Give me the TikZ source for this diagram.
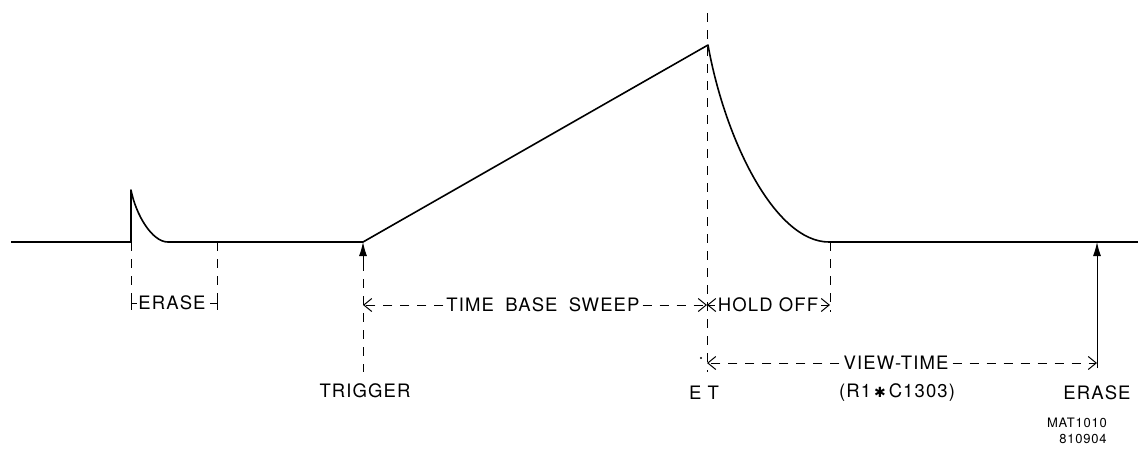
\documentclass[tikz,border=0pt]{standalone}
\usepackage{fontspec}
\setmainfont{TeX Gyre Heros}[LetterSpace=6]
\newfontfamily\symfont{DejaVu Sans}
\usetikzlibrary{arrows.meta}
\tikzset{
  wave/.style={line width=1.6pt, line join=round},
  dim/.style={line width=1pt, dash pattern=on 9pt off 8pt},
  solidline/.style={line width=1pt},
  barb/.style={-{Straight Barb[length=8pt,width=13pt,line width=1pt]}, line width=1pt, dash pattern=on 9pt off 8pt},
  uparrow/.style={-{Latex[length=14pt,width=8pt]}, line width=1pt},
  lbl/.style={font=\fontsize{18.5}{20}\selectfont, inner sep=0pt, anchor=center},
  small/.style={font=\fontsize{13}{15}\selectfont, inner sep=0pt, anchor=center}
}
\begin{document}
\begin{tikzpicture}[x=1pt,y=-1pt]
\useasboundingbox (0,0) rectangle (1138,448);
% waveform
\coordinate (L0) at (11,242);
\coordinate (P0) at (131,242);
\coordinate (P1) at (131,190);
\coordinate (P2) at (168,242);
\coordinate (T) at (363,242);
\coordinate (Pk) at (708,45);
\coordinate (H) at (829,242);
\coordinate (R) at (1138,242);
\coordinate (E2) at (1097,242);
\draw[wave] (L0) -- (P0) -- (P1) .. controls (136,215) and (152,242) .. (P2) -- (T) -- (Pk) .. controls (725,140) and (775,242) .. (H) -- (R);

% left ERASE marker
\coordinate (a1) at (131,297);
\coordinate (a2) at (131,310);
\coordinate (a3) at (131,303);
\coordinate (a4) at (137,303);
\coordinate (b1) at (217,242);
\coordinate (b2) at (217,297);
\coordinate (b3) at (217,310);
\coordinate (b4) at (217,303);
\coordinate (b5) at (210,303);
\draw[dim] (P0) -- (a1);
\draw[solidline] (a1) -- (a2) (a3) -- (a4);
\draw[dim] (b1) -- (b2);
\draw[solidline] (b2) -- (b3) (b4) -- (b5);
\node[lbl] (erase1) at (172,303) {ERASE};

% trigger
\coordinate (t1) at (363,262);
\coordinate (t2) at (363,372);
\draw[uparrow] (t1) -- (T);
\draw[dim] (t1) -- (t2);
\node[lbl] (trig) at (365,391) {TRIGGER};

% end-of-trace vertical
\coordinate (v1) at (707,13);
\coordinate (v2) at (707,372);
\draw[dim] (v1) -- (v2);

% time base sweep
\coordinate (s1) at (363,305);
\coordinate (s2) at (707,305);
\node[lbl, inner xsep=3pt] (tbs) at (543,305) {TIME\hspace{5pt} BASE\hspace{5pt} SWEEP};
\draw[barb] (tbs.west) -- (s1);
\draw[barb] (tbs.east) -- (s2);

% hold off
\coordinate (h1) at (830,242);
\coordinate (h2) at (830,312);
\draw[dim] (h1) -- (h2);
\coordinate (h3) at (830,305);
\node[lbl, inner xsep=3pt] (ho) at (768,305) {HOLD OFF};
\draw[barb] (ho.west) -- (s2);
\draw[barb] (ho.east) -- (h3);

% view time
\coordinate (w1) at (707,363);
\coordinate (w2) at (1097,363);
\node[lbl, inner xsep=4pt] (vt) at (896,363) {VIEW-TIME};
\draw[barb] (vt.west) -- (w1);
\draw[barb] (vt.east) -- (w2);
\fill (701,358) circle (1.2pt);

% erase arrow
\coordinate (e1) at (1097,368);
\draw[uparrow] (e1) -- (E2);

% bottom labels
\node[lbl] (et) at (704,393) {E\hspace{6pt}T};
\node[lbl] (rc) at (897,393) {(R1\hspace{3pt}{\symfont\fontsize{14}{16}\selectfont ✱}\hspace{3pt}C1303)};
\node[lbl] (erase2) at (1097,393) {ERASE};
\node[small] (mat) at (1077,423) {MAT1010};
\node[small] (num) at (1083,439) {810904};
\end{tikzpicture}
\end{document}
